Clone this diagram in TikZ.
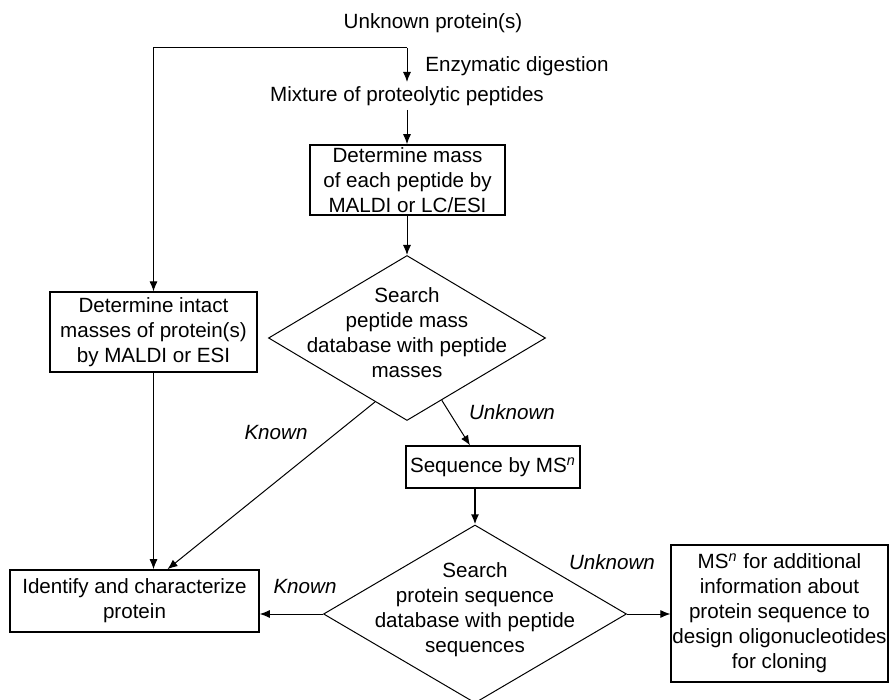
\documentclass[tikz,border=0pt]{standalone}
\usepackage{fontspec}
\setmainfont{Liberation Sans}
\usetikzlibrary{positioning,shapes.geometric,arrows.meta,calc}

\begin{document}
\begin{tikzpicture}[x = 0.5pt, y = -0.5pt,
    every node/.style = { align = center, inner sep = 2pt,
      font = \fontsize{10.3}{12.5}\selectfont },
    stepbox/.style = { draw, line width = 0.6pt, inner sep = 0pt },
    decision/.style = { draw, shape = diamond, line width = 0.5pt, inner sep = 0pt },
    arr/.style = { -{Latex[length=5pt,width=4pt]}, line width = 0.5pt },
    answer/.style = { font = \fontsize{10.3}{12.5}\selectfont\itshape }]
    \useasboundingbox (0,0) rectangle (890,700);

    % start and digestion
    \node (unk) at (433,23) {Unknown protein(s)};
    \coordinate (split) at (407,48);
    \node [anchor = west] (enz) at (421,66) {Enzymatic digestion};
    \node (mix) at (407,96) {Mixture of proteolytic peptides};

    \node [stepbox, line width = 0.8pt, minimum width = 97.5pt, minimum height = 35pt] (mass) at (407.5,180)
      {Determine mass\\ of each peptide by\\ MALDI or LC/ESI};
    \node [decision, minimum width = 138.5pt, minimum height = 82.5pt] (srch1) at (407,338) {};
    \node (srch1txt) at (407,333) {Search\\ peptide mass\\ database with peptide\\ masses};
    \node [stepbox, minimum width = 103.5pt, minimum height = 40pt] (intact) at (153.5,332)
      {Determine intact\\ masses of protein(s)\\ by MALDI or ESI};
    \node [stepbox, minimum width = 87pt, minimum height = 21pt] (seq) at (493,467)
      {Sequence by MS\textsuperscript{\itshape n}};
    \node [decision, minimum width = 151.5pt, minimum height = 89pt] (srch2) at (475,614) {};
    \node (srch2txt) at (475,610) {Search\\ protein sequence\\ database with peptide\\ sequences};
    \node [stepbox, line width = 0.8pt, minimum width = 124.5pt, minimum height = 31pt] (ident) at (134.5,601)
      {Identify and characterize\\ protein};
    \node [stepbox, minimum width = 108.5pt, minimum height = 68.5pt] (extra) at (779.5,613.5)
      {MS\textsuperscript{\itshape n} for additional\\ information about\\ protein sequence to\\ design oligonucleotides\\ for cloning};

    % connectors
    \draw [arr] (split) -- (mix.north);
    \draw [arr] (split) -| (intact.north);
    \draw [arr] (mix.south) -- (mix.south |- mass.north);
    \draw [arr] (mass.south -| srch1.north) -- (srch1.north);
    \draw [arr] (intact.south) -- (intact.south |- ident.north);
    \draw [arr] ($(srch1.west)!0.77!(srch1.south)$) -- ($(ident.north)+(33,0)$);
    \draw [arr] ($(srch1.south)!0.25!(srch1.east)$) -- ($(seq.north)+(-23,0)$);
    \draw [arr, line width = 0.9pt] (seq.south -| srch2.north) -- (srch2.north);
    \draw [arr] (srch2.west) -- (srch2.west -| ident.east);
    \draw [arr] (srch2.east) -- (srch2.east -| extra.west);

    \node [answer] (known1) at (276,433) {Known};
    \node [answer] (unknown1) at (512,412) {Unknown};
    \node [answer] (known2) at (305,587) {Known};
    \node [answer] (unknown2) at (612,562) {Unknown};
\end{tikzpicture}
\end{document}
